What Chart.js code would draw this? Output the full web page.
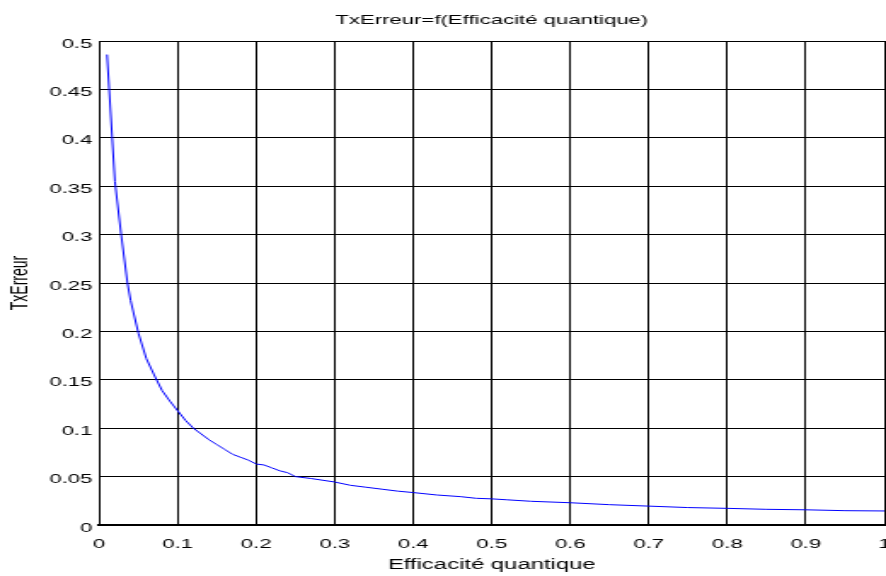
<!DOCTYPE html>
<html lang="fr">
<head>
  <meta charset="UTF-8">
  <title>TxErreur=f(Efficacité quantique)</title>
  <script src="https://cdn.jsdelivr.net/npm/chart.js"></script>
  <style>
    html, body { margin: 0; padding: 0; background: #fff; overflow: hidden; }
  </style>
</head>
<body>
<!-- la figure d'origine est étirée horizontalement : 520 px de dessin affichés sur 886 px -->
<canvas id="graphe" width="520" height="576" style="display:block;width:886px;height:576px"></canvas>

<script>
  // Valeurs
  const efficacite = [0.01, 0.02, 0.028, 0.036, 0.04, 0.05, 0.06, 0.07, 0.08, 0.09,
    0.1, 0.11, 0.12, 0.13, 0.14, 0.15, 0.16, 0.17, 0.18, 0.19,
    0.2, 0.21, 0.22, 0.23, 0.24, 0.25, 0.27, 0.3, 0.32, 0.34,
    0.36, 0.38, 0.4, 0.43, 0.46, 0.48, 0.5, 0.52, 0.55, 0.6,
    0.65, 0.7, 0.75, 0.8, 0.85, 0.9, 0.95, 1.0];
  const txErreur = [0.486, 0.355, 0.3, 0.25, 0.232, 0.198, 0.172, 0.155, 0.139, 0.128,
    0.118, 0.108, 0.1, 0.094, 0.088, 0.083, 0.078, 0.073, 0.07, 0.067,
    0.063, 0.062, 0.059, 0.056, 0.054, 0.05, 0.048, 0.0444, 0.041, 0.039,
    0.037, 0.035, 0.0335, 0.031, 0.0293, 0.0276, 0.027, 0.026, 0.0245, 0.023,
    0.021, 0.0195, 0.018, 0.0172, 0.0162, 0.0157, 0.0148, 0.0145];

  // Graduations
  const xTicks = [0, 0.1, 0.2, 0.3, 0.4, 0.5, 0.6, 0.7, 0.8, 0.9, 1];
  const xTickLabels = ["0", "0.1", "0.2", "0.3", "0.4", "0.5", "0.6", "0.7", "0.8", "0.9", "1"];
  const yTicks = [0, 0.05, 0.1, 0.15, 0.2, 0.25, 0.3, 0.35, 0.4, 0.45, 0.5];
  const yTickLabels = ["0", "0.05", "0.1", "0.15", "0.2", "0.25", "0.3", "0.35", "0.4", "0.45", "0.5"];

  const police = '"Liberation Sans", Arial, sans-serif';
  Chart.defaults.color = "#000";
  Chart.defaults.font.family = police;

  const points = efficacite.map((x, i) => ({ x: x, y: txErreur[i] }));

  new Chart(document.getElementById("graphe"), {
    type: "line",
    data: {
      datasets: [{
        label: "TxErreur",
        data: points,
        borderColor: "#0000ff",
        borderWidth: 1,
        pointRadius: 0,
        tension: 0,
        fill: false
      }]
    },
    options: {
      responsive: false,
      animation: false,
      layout: { padding: { left: 0, right: 1, top: 0, bottom: 0 } },
      plugins: {
        legend: { display: false },
        tooltip: { enabled: false },
        title: {
          display: true,
          text: "TxErreur=f(Efficacité quantique)",
          fullSize: false,
          font: { size: 13, weight: "normal" },
          padding: { top: 13, bottom: 12.4 }
        }
      },
      scales: {
        x: {
          type: "linear",
          min: 0,
          max: 1,
          afterBuildTicks: s => { s.ticks = xTicks.map(v => ({ value: v })); },
          afterFit: s => { s.height = 51; s.paddingLeft = 0; s.paddingRight = 0; },
          ticks: {
            callback: (v, i) => xTickLabels[i],
            font: { size: 13 },
            padding: 11.5,
            maxRotation: 0,
            autoSkip: false
          },
          grid: { color: "#000", lineWidth: 1, drawTicks: false },
          border: { color: "#000", width: 2 },
          title: {
            display: true,
            text: "Efficacité quantique",
            font: { size: 14 },
            padding: { top: 0, bottom: 2.6 }
          }
        },
        y: {
          min: 0,
          max: 0.5,
          afterBuildTicks: s => { s.ticks = yTicks.map(v => ({ value: v })); },
          afterFit: s => { s.width = 58.2; },
          ticks: {
            callback: (v, i) => yTickLabels[i],
            font: { size: 13 },
            padding: 4,
            labelOffset: 3,
            autoSkip: false
          },
          grid: { color: "#000", lineWidth: 1, drawTicks: false },
          border: { color: "#000", width: 1 },
          title: {
            display: true,
            text: "TxErreur",
            font: { size: 14 },
            padding: { top: 4, bottom: 0 }
          }
        }
      }
    }
  });
</script>
</body>
</html>
